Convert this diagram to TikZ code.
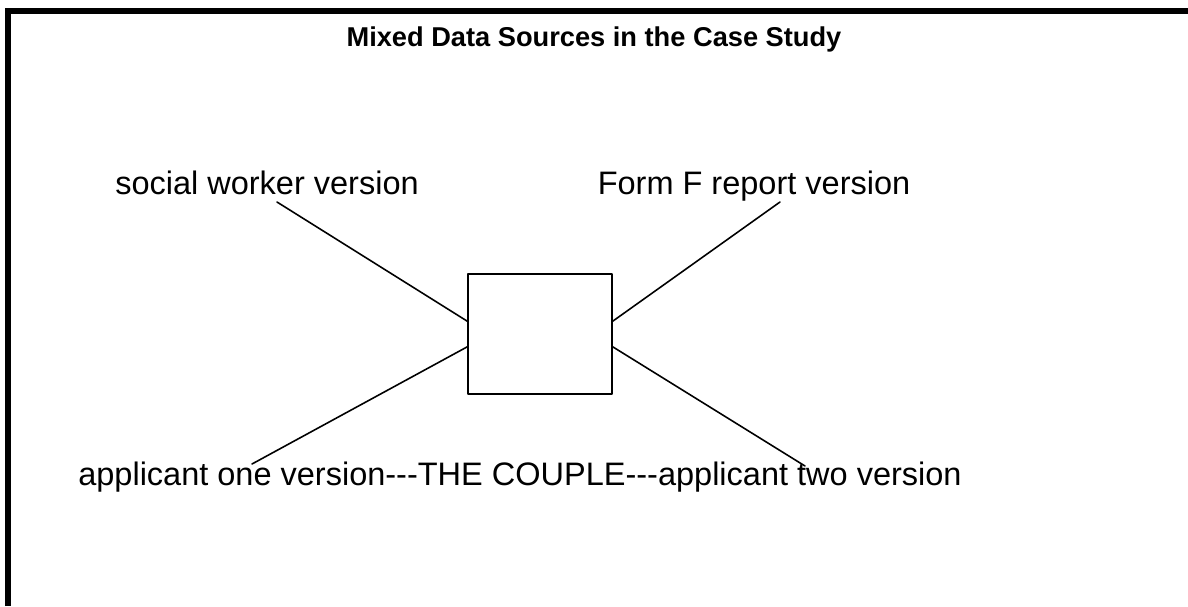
\documentclass[tikz,border=0pt]{standalone}
\usepackage{fontspec}
\setmainfont{Liberation Sans}
\begin{document}
\begin{tikzpicture}[x=0.02cm,y=-0.02cm,line join=round,line cap=round,
	label/.style={font=\fontsize{18.5}{22}\selectfont,anchor=base,inner sep=0pt},
	link/.style={line width=0.9pt,black}]
			\useasboundingbox (0,0) rectangle (1188,606);
			\draw[line width=3.4pt,line join=miter,line cap=butt] (8,606)--(8,11)--(1188,11);
			\node[anchor=base,inner sep=0pt,font=\fontsize{15.5}{18}\selectfont\bfseries](title) at (594,46) {Mixed Data Sources in the Case Study};
			\node[draw,line width=0.9pt,minimum width=144*0.02cm,minimum height=120*0.02cm,inner sep=0pt](couple) at (540,334) {};
			\node[label](social) at (267,194) {social worker version};
			\node[label](formf) at (754,194) {Form F report version};
			\node[label](applicants) at (520,485) {applicant one version-{}-{}-THE COUPLE-{}-{}-applicant two version};
			\coordinate (socialend) at (277,202);
			\coordinate (formfend) at (780,202);
			\coordinate (oneend) at (252,464);
			\coordinate (twoend) at (805,466);
			\draw[link] (socialend)--(couple.170);
			\draw[link] (formfend)--(couple.10);
			\draw[link] (oneend)--(couple.190);
			\draw[link] (twoend)--(couple.350);
			\end{tikzpicture}
\end{document}
